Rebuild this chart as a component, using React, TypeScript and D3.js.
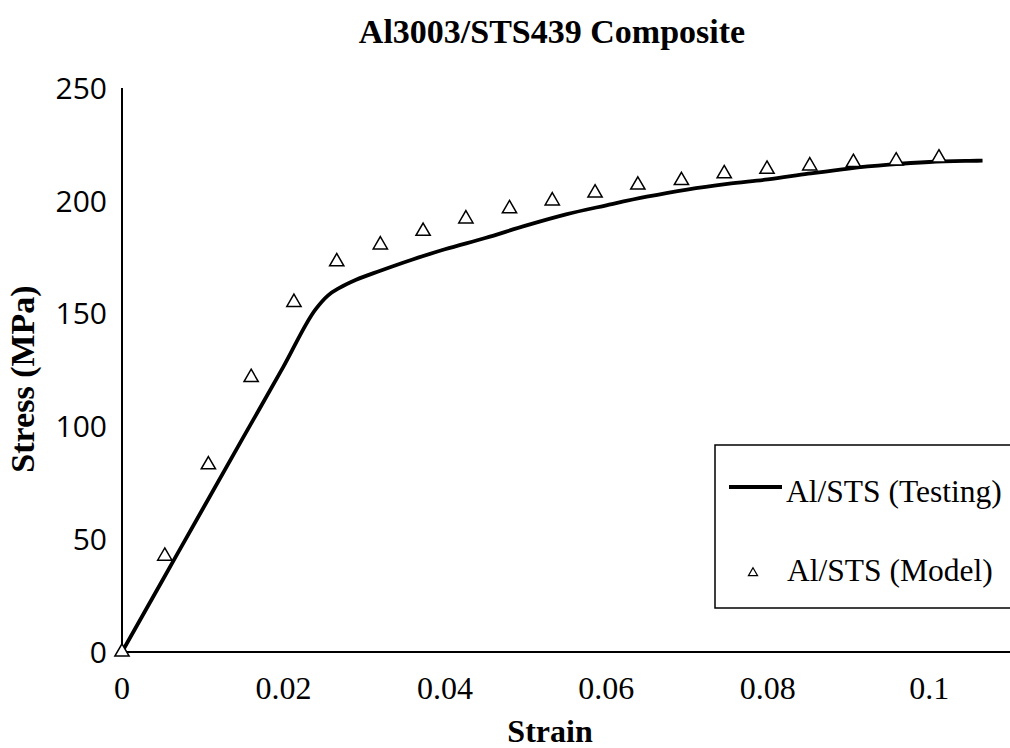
import React from "react";
import { scaleLinear, line, curveMonotoneX, symbol, symbolTriangle } from "d3";

// testing curve
const testStrain = [0, 0.005, 0.01, 0.015, 0.02, 0.024, 0.0255, 0.027, 0.029, 0.032, 0.036, 0.04, 0.045, 0.05, 0.055, 0.06, 0.065, 0.07, 0.075, 0.08, 0.085, 0.09, 0.095, 0.1, 0.105, 0.1066];
const testStress = [0, 31.7, 63.4, 95, 126.5, 152, 158, 161.5, 165, 169, 174, 178.5, 183.5, 189, 194, 198, 201.8, 205, 207.5, 209.5, 212, 214.3, 216, 217.2, 217.7, 217.8];

// model points
const modelStrain = [0, 0.0053, 0.0107, 0.016, 0.0213, 0.0266, 0.032, 0.0373, 0.0426, 0.048, 0.0533, 0.0586, 0.0639, 0.0693, 0.0746, 0.0799, 0.0852, 0.0906, 0.0959, 0.1012];
const modelStress = [0, 42.5, 83, 121.7, 155, 173, 180.5, 186.5, 192, 196.5, 200, 203.5, 207, 209, 212, 214, 215.5, 217, 217.7, 219];

const xTicks = [0, 0.02, 0.04, 0.06, 0.08, 0.1];
const xTickLabels = ["0", "0.02", "0.04", "0.06", "0.08", "0.1"];
const yTicks = [0, 50, 100, 150, 200, 250];

const seriesNames = ["Al/STS (Testing)", "Al/STS (Model)"];

const width = 1010;
const height = 748;

const serif = "'Liberation Serif', 'Times New Roman', serif";
const sans = "'Open Sans', 'Noto Sans', sans-serif";

const App = () => {
  const xScale = scaleLinear().domain([0, 0.11]).range([122, 1010]);
  const yScale = scaleLinear().domain([0, 250]).range([652, 88]);

  const testData = testStrain.map((s, i) => [s, testStress[i]]);
  const path = line()
    .x((d) => xScale(d[0]))
    .y((d) => yScale(d[1]))
    .curve(curveMonotoneX)(testData);

  const tri = symbol().type(symbolTriangle).size(88)();
  const triSmall = symbol().type(symbolTriangle).size(36)();

  return (
    <div style={{ position: "absolute", left: 0, top: 0 }}>
      <svg width={width} height={height} viewBox={`0 0 ${width} ${height}`} style={{ display: "block", background: "#fff" }}>
        <text x={552} y={43} textAnchor="middle" fontFamily={serif} fontWeight="bold" fontSize="34">
          Al3003/STS439 Composite
        </text>

        {/* axes */}
        <line x1={xScale(0)} x2={xScale(0)} y1={yScale(250)} y2={yScale(0)} stroke="#000" strokeWidth={2} />
        <line x1={xScale(0)} x2={xScale(0.11)} y1={yScale(0)} y2={yScale(0)} stroke="#000" strokeWidth={2} />

        {yTicks.map((t) => (
          <text key={t} x={107} y={yScale(t)} dy="0.36em" textAnchor="end" fontFamily={sans} fontSize="30">
            {t}
          </text>
        ))}
        {xTicks.map((t, i) => (
          <text key={t} x={xScale(t)} y={699} textAnchor="middle" fontFamily={serif} fontSize="32">
            {xTickLabels[i]}
          </text>
        ))}

        <text x={550} y={742} textAnchor="middle" fontFamily={serif} fontWeight="bold" fontSize="32">
          Strain
        </text>
        <text
          transform={`translate(34, ${379}) rotate(-90)`}
          textAnchor="middle"
          fontFamily={serif}
          fontWeight="bold"
          fontSize="34"
        >
          Stress (MPa)
        </text>

        <path d={path} fill="none" stroke="#000" strokeWidth={3.8} />

        {modelStrain.map((s, i) => (
          <path
            key={i}
            d={tri}
            transform={`translate(${xScale(s)}, ${yScale(modelStress[i])})`}
            fill="#fff"
            stroke="#000"
            strokeWidth={1.5}
          />
        ))}

        {/* legend */}
        <rect x={715} y={445} width={310} height={163} fill="#fff" stroke="#000" strokeWidth={1.5} />
        <line x1={729} x2={782} y1={487} y2={487} stroke="#000" strokeWidth={3.8} />
        <text x={786} y={502} fontFamily={serif} fontSize="31.5">
          {seriesNames[0]}
        </text>
        <path d={triSmall} transform="translate(753, 573)" fill="#fff" stroke="#000" strokeWidth={1.2} />
        <text x={787} y={581} fontFamily={serif} fontSize="31.5">
          {seriesNames[1]}
        </text>
      </svg>
    </div>
  );
};

export default App;
